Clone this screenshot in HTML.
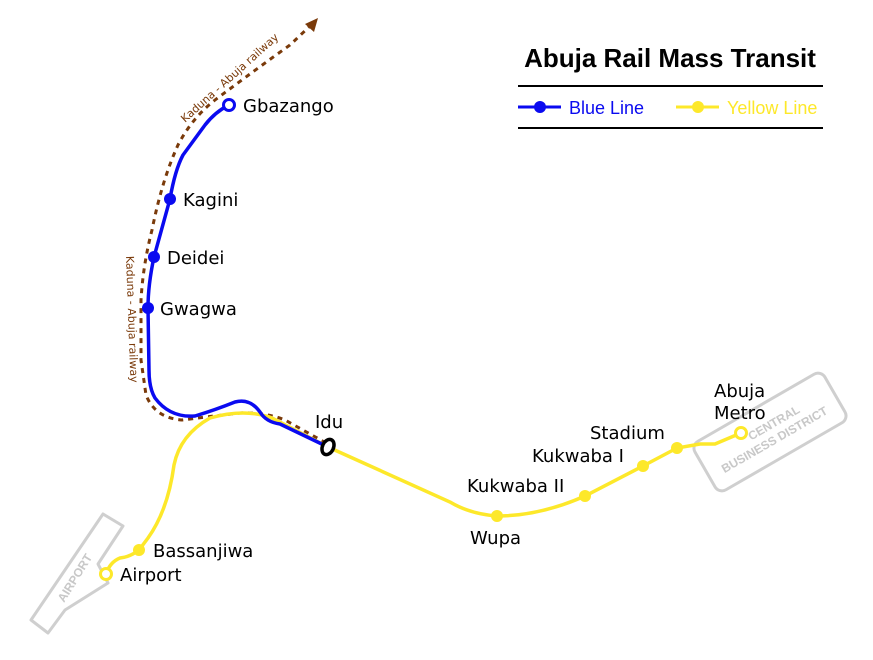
<!DOCTYPE html>
<html><head><meta charset="utf-8"><style>
html,body{margin:0;padding:0;background:#fff;}
svg{display:block;}
.st{font-family:"DejaVu Sans","Liberation Sans",sans-serif;font-size:18px;fill:#000;}
.rw{font-family:"DejaVu Sans","Liberation Sans",sans-serif;font-size:11px;fill:#7a3a0a;}
.gz{font-family:"Liberation Sans",sans-serif;font-weight:bold;font-size:12px;fill:#c8c8c8;}
</style></head><body>
<svg width="873" height="660" viewBox="0 0 873 660" xmlns="http://www.w3.org/2000/svg">
<!-- airport zone -->
<path d="M103,514 L123,526 L98,564 L108,583 L65,610 L48,633 L31,620 Z" fill="none" stroke="#cfcfcf" stroke-width="3" stroke-linejoin="round"/>
<text class="gz" transform="translate(64,603) rotate(-58)">AIRPORT</text>
<!-- CBD zone -->
<g transform="translate(770,432) rotate(-30)">
<rect x="-75" y="-28" width="150" height="56" rx="8" fill="none" stroke="#cfcfcf" stroke-width="3"/>
<text class="gz" x="8" y="-2" text-anchor="middle">CENTRAL</text>
<text class="gz" x="0" y="13" text-anchor="middle">BUSINESS DISTRICT</text>
</g>
<!-- railway dashed -->
<path d="M326,443 L285,420 Q265,412 240,413 Q205,417 182,420 Q155,418 146,395 L141,360 L141,300 Q143,265 152,230 Q162,180 178,145 Q192,118 215,100 Q255,70 290,45 L310,26" fill="none" stroke="#7a3a0a" stroke-width="3" stroke-dasharray="5,5"/>
<path d="M318,18 L305,24 L314,32 Z" fill="#7a3a0a"/>
<text class="rw" transform="translate(185,123) rotate(-42)">Kaduna - Abuja railway</text>
<text class="rw" transform="translate(126,256) rotate(88)">Kaduna - Abuja railway</text>
<!-- yellow line -->
<path d="M741,433 L715,444 L700,444 L677,448 L643,466 L585,496 Q540,516 497,516 Q470,514 450,502 L328,447 L272,418 Q245,408 210,418 Q180,435 174,465 Q168,510 148,538 L139,550 Q130,557 120,558 Q110,562 106,574" fill="none" stroke="#fde82a" stroke-width="3.5"/>
<!-- blue line -->
<path d="M328,447 L280,424 Q266,422 260,412 Q250,398 235,402 Q215,410 195,416 Q170,418 155,398 Q149,388 149,370 L148,308 Q148,285 154,257 L170,199 Q175,170 183,155 L205,125 Q215,112 229,105" fill="none" stroke="#0a0af0" stroke-width="3.5"/>
<!-- stations -->
<g fill="#0a0af0">
<circle cx="170" cy="199" r="6"/><circle cx="154" cy="257" r="6"/><circle cx="148" cy="308" r="6"/>
</g>
<circle cx="229" cy="105" r="5.5" fill="#fff" stroke="#0a0af0" stroke-width="3"/>
<g fill="#fde82a">
<circle cx="497" cy="516" r="6"/><circle cx="585" cy="496" r="6"/><circle cx="643" cy="466" r="6"/><circle cx="677" cy="448" r="6"/><circle cx="139" cy="550" r="6"/>
</g>
<circle cx="741" cy="433" r="5.5" fill="#fff" stroke="#fde82a" stroke-width="3"/>
<circle cx="106" cy="574" r="5.5" fill="#fff" stroke="#fde82a" stroke-width="3"/>
<ellipse cx="328" cy="447" rx="5.5" ry="8" transform="rotate(25 328 447)" fill="#fff" stroke="#000" stroke-width="3.5"/>
<!-- labels -->
<text class="st" x="243" y="112">Gbazango</text>
<text class="st" x="183" y="206">Kagini</text>
<text class="st" x="167" y="264">Deidei</text>
<text class="st" x="160" y="315">Gwagwa</text>
<text class="st" x="315" y="428">Idu</text>
<text class="st" x="470" y="544">Wupa</text>
<text class="st" x="467" y="492">Kukwaba II</text>
<text class="st" x="532" y="462">Kukwaba I</text>
<text class="st" x="590" y="439">Stadium</text>
<text class="st" x="714" y="397">Abuja</text>
<text class="st" x="714" y="419">Metro</text>
<text class="st" x="153" y="557">Bassanjiwa</text>
<text class="st" x="120" y="581">Airport</text>
<!-- legend -->
<text x="670" y="67" text-anchor="middle" font-family="Liberation Sans,sans-serif" font-weight="bold" font-size="26" fill="#000">Abuja Rail Mass Transit</text>
<line x1="518" y1="86" x2="823" y2="86" stroke="#000" stroke-width="2"/>
<line x1="518" y1="128" x2="823" y2="128" stroke="#000" stroke-width="2"/>
<line x1="518" y1="107" x2="561" y2="107" stroke="#0a0af0" stroke-width="3"/>
<circle cx="540" cy="107" r="6" fill="#0a0af0"/>
<text x="569" y="114" font-family="Liberation Sans,sans-serif" font-size="18" fill="#0a0af0">Blue Line</text>
<line x1="676" y1="107" x2="719" y2="107" stroke="#fde82a" stroke-width="3"/>
<circle cx="698" cy="107" r="6" fill="#fde82a"/>
<text x="727" y="114" font-family="Liberation Sans,sans-serif" font-size="18" fill="#fde82a">Yellow Line</text>
</svg>
</body></html>
